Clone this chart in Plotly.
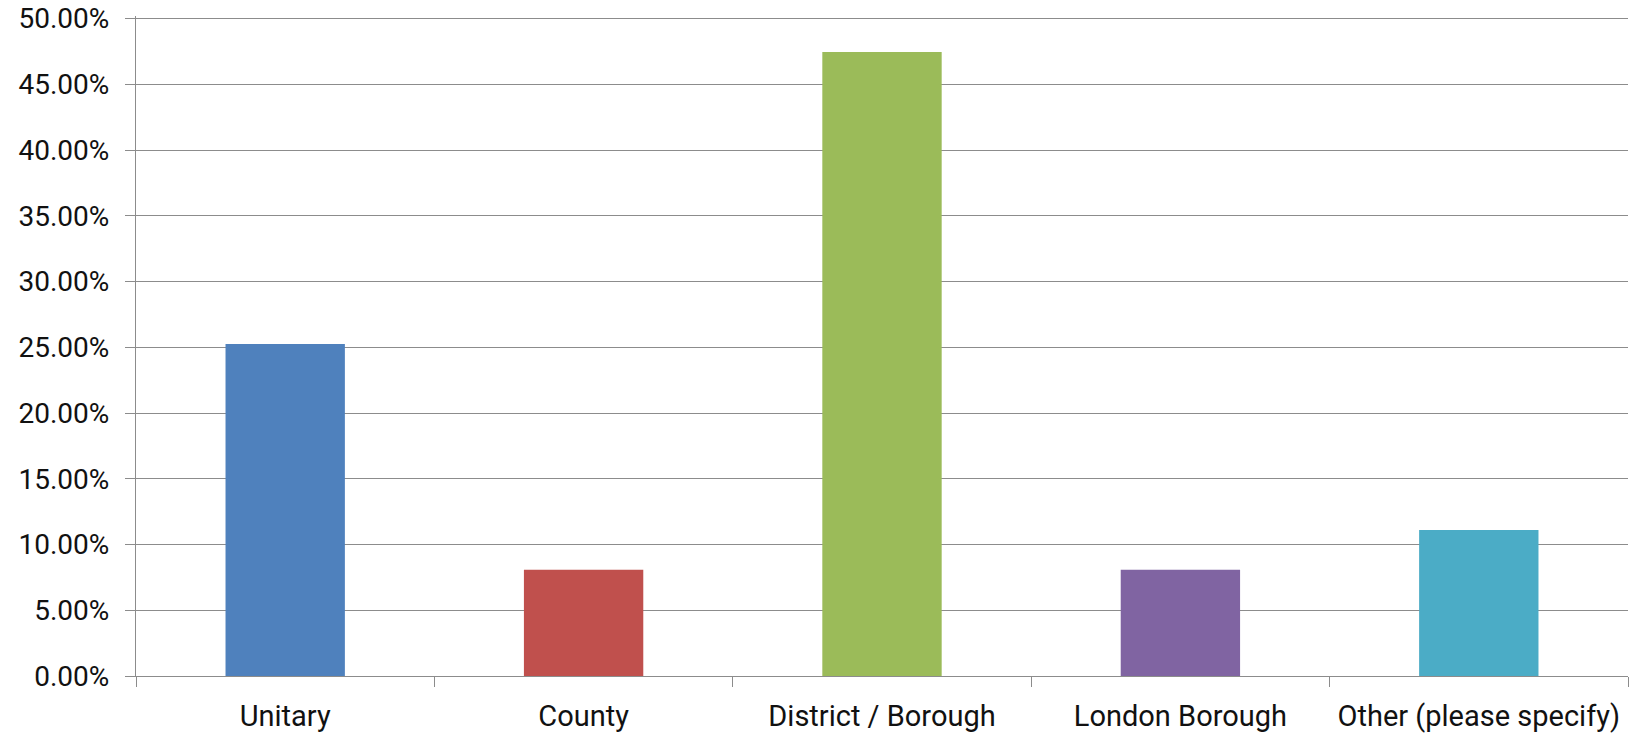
import plotly.graph_objects as go

categories = ["Unitary", "County", "District / Borough", "London Borough", "Other (please specify)"]
values = [0.2525, 0.0808, 0.4747, 0.0808, 0.1111]
colors = ["#4F81BD", "#C0504D", "#9BBB59", "#8064A2", "#4BACC6"]
y_ticks = [0.0, 0.05, 0.10, 0.15, 0.20, 0.25, 0.30, 0.35, 0.40, 0.45, 0.50]

fig = go.Figure(go.Bar(
    x=categories, y=values,
    marker=dict(color=colors, line=dict(width=0)),
    width=0.4,
))

font_family = "Roboto, 'Open Sans', sans-serif"
fig.update_layout(
    width=1633, height=736,
    margin=dict(l=136, r=5, t=16, b=60),
    paper_bgcolor="white", plot_bgcolor="white",
    showlegend=False,
    font=dict(family=font_family, size=28, color="#111111"),
)
fig.update_yaxes(
    range=[0, 0.502], tickvals=y_ticks, tickformat=".2%",
    showgrid=True, gridcolor="#8c8c8c", gridwidth=1.3,
    showline=True, linecolor="#8c8c8c", linewidth=1.3,
    ticks="outside", ticklen=10, tickcolor="#8c8c8c", tickwidth=1.3,
    zeroline=False, tickfont=dict(size=28), automargin=False,
    ticklabelstandoff=10, ticklabeloverflow="allow",
)
fig.update_xaxes(
    showline=True, linecolor="#8c8c8c", linewidth=1.3,
    ticks="outside", tickson="boundaries", ticklen=10, tickcolor="#8c8c8c", tickwidth=1.3,
    showgrid=False, tickfont=dict(size=29), automargin=False, tickangle=0,
    ticklabelstandoff=14,
)
fig.write_html("out.html", config={"displayModeBar": False},
               post_script="document.body.style.margin='0';")
